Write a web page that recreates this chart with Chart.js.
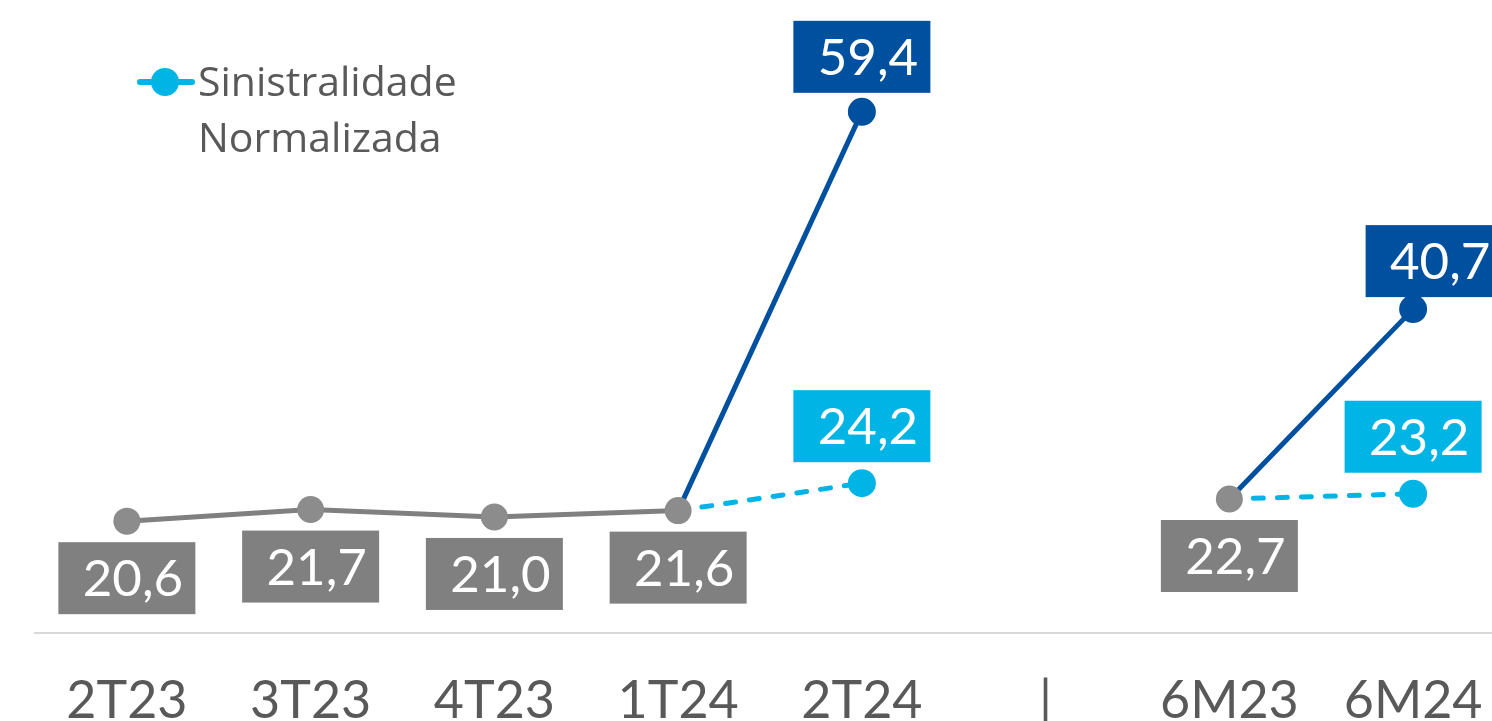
<!DOCTYPE html>
<html>
<head>
<meta charset="utf-8">
<script src="https://cdn.jsdelivr.net/npm/chart.js@4.4.1/dist/chart.umd.min.js"></script>
<style>
  html, body { margin: 0; padding: 0; background: #ffffff; overflow: hidden; }
  #wrap { width: 1492px; height: 721px; overflow: hidden; position: relative; }
  #c { display: block; }
</style>
</head>
<body>
<div id="wrap"><canvas id="c" width="1505" height="760"></canvas></div>
<script>
const categories = ['2T23', '3T23', '4T23', '1T24', '2T24', '|', '6M23', '6M24'];
const sinistralidadeBase = [20.6, 21.7, 21.0, 21.6, null, null, 22.7, null];
const sinistralidade = [null, null, null, 21.6, 59.4, null, 22.7, 40.7];
const sinistralidadeNormalizada = [null, null, null, 21.6, 24.2, null, 22.7, 23.2];
const legendLines = ['Sinistralidade', 'Normalizada'];

const GRAY_LINE = '#808080', GRAY_PT = '#8c8c8c', BLUE = '#0050a0', CYAN = '#00b5e5', TXT = '#595959';
const CANVAS_H = 760, AXIS_Y = 633;

// label placement per dataset: side, gap, horizontal shift per index
const labelPlacement = [
  { side: 'below', gap: 21, dx: [0, 0, 0, 0, 0, 0, 0, 0] },
  { side: 'above', gap: 19, dx: [0, 0, 0, 0, 0, 0, 0, 21], gapAt: { 7: 12 } },
  { side: 'above', gap: 21, dx: [0, 0, 0, 0, 0, 0, 0, 0] }
];

const ptRadiusNew = ctx => (sinistralidadeBase[ctx.dataIndex] == null ? 14 : 0);

const boxLabels = {
  id: 'boxLabels',
  afterDatasetsDraw(chart) {
    const ctx = chart.ctx;
    ctx.save();
    chart.data.datasets.forEach((ds, di) => {
      const meta = chart.getDatasetMeta(di);
      const pl = labelPlacement[di];
      meta.data.forEach((el, i) => {
        const v = ds.data[i];
        if (v == null) return;
        if (di > 0 && sinistralidadeBase[i] != null) return;
        const w = 137, h = 72;
        const gap = (pl.gapAt && pl.gapAt[i] != null) ? pl.gapAt[i] : pl.gap;
        const cx = el.x + pl.dx[i];
        const top = pl.side === 'below' ? el.y + gap : el.y - gap - h;
        ctx.fillStyle = ds.labelBg;
        ctx.fillRect(cx - w / 2, top, w, h);
        ctx.fillStyle = '#ffffff';
        ctx.font = '51px Lato';
        ctx.textAlign = 'center';
        ctx.textBaseline = 'alphabetic';
        ctx.fillText(v.toFixed(1).replace('.', ','), cx + 6, top + h / 2 + 18);
      });
    });
    ctx.restore();
  }
};

const customLegend = {
  id: 'customLegend',
  afterDraw(chart) {
    const ctx = chart.ctx;
    ctx.save();
    ctx.strokeStyle = CYAN;
    ctx.lineWidth = 6;
    ctx.lineCap = 'round';
    ctx.beginPath();
    ctx.moveTo(140, 82);
    ctx.lineTo(192, 82);
    ctx.stroke();
    ctx.fillStyle = CYAN;
    ctx.beginPath();
    ctx.arc(165, 82, 14, 0, Math.PI * 2);
    ctx.fill();
    ctx.fillStyle = TXT;
    ctx.font = '41px "Open Sans"';
    ctx.textAlign = 'left';
    ctx.textBaseline = 'alphabetic';
    ctx.fillText(legendLines[0], 198, 96);
    ctx.fillText(legendLines[1], 198, 152);
    ctx.restore();
  }
};

new Chart(document.getElementById('c'), {
  type: 'line',
  data: {
    labels: categories,
    datasets: [
      {
        label: 'Sinistralidade (base)',
        data: sinistralidadeBase,
        borderColor: GRAY_LINE,
        backgroundColor: GRAY_PT,
        pointBackgroundColor: GRAY_PT,
        pointBorderWidth: 0,
        pointRadius: 13.5,
        borderWidth: 5,
        spanGaps: false,
        labelBg: '#808080'
      },
      {
        label: 'Sinistralidade',
        data: sinistralidade,
        borderColor: BLUE,
        backgroundColor: BLUE,
        pointBackgroundColor: BLUE,
        pointBorderWidth: 0,
        pointRadius: ptRadiusNew,
        borderWidth: 5,
        spanGaps: false,
        labelBg: BLUE
      },
      {
        label: 'Sinistralidade Normalizada',
        data: sinistralidadeNormalizada,
        borderColor: CYAN,
        backgroundColor: CYAN,
        pointBackgroundColor: CYAN,
        pointBorderWidth: 0,
        pointRadius: ptRadiusNew,
        borderWidth: 5,
        borderDash: [10, 14],
        borderCapStyle: 'round',
        spanGaps: false,
        labelBg: CYAN
      }
    ]
  },
  options: {
    responsive: false,
    animation: false,
    clip: false,
    layout: { autoPadding: false, padding: { left: 35, right: 0, top: 0, bottom: 0 } },
    plugins: { legend: { display: false }, tooltip: { enabled: false } },
    scales: {
      x: {
        type: 'category',
        offset: true,
        grid: { display: false, drawTicks: true, tickLength: 37 },
        border: { display: true, color: '#d9d9d9', width: 2 },
        ticks: {
          color: TXT,
          font: { family: 'Lato', size: 52 },
          padding: 0,
          autoSkip: false,
          maxRotation: 0,
          minRotation: 0
        },
        afterFit(scale) { scale.height = CANVAS_H - AXIS_Y; }
      },
      y: {
        display: false,
        min: 10,
        max: 70
      }
    }
  },
  plugins: [boxLabels, customLegend]
});
</script>
</body>
</html>
